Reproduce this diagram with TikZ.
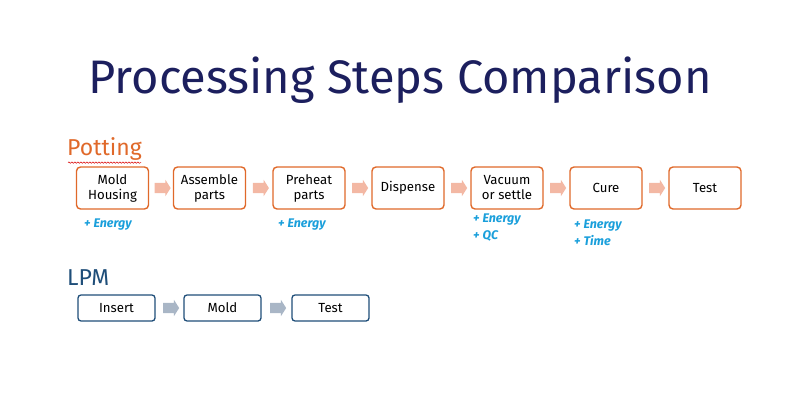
\documentclass[tikz,border=0pt]{standalone}
\usepackage{fontspec}
\setmainfont{Fira Sans}
\usetikzlibrary{shapes.arrows,calc,decorations.pathmorphing}

\definecolor{titleblue}{HTML}{1C1F5E}
\definecolor{potorange}{HTML}{E0692A}
\definecolor{potarrow}{HTML}{F3B8A4}
\definecolor{lpmblue}{HTML}{1F4E79}
\definecolor{lpmarrow}{HTML}{A9B6C6}
\definecolor{notecyan}{HTML}{1A9FDB}

\tikzset{
  potbox/.style={draw=potorange,line width=1.4pt,rounded corners=4pt,fill=white,
    minimum width=72pt,minimum height=42pt,align=center,font=\fontsize{13.2}{15}\selectfont},
  lpmbox/.style={draw=lpmblue,line width=1.3pt,rounded corners=3pt,fill=white,
    minimum width=77pt,minimum height=26pt,align=center,font=\fontsize{13.2}{15}\selectfont},
  stepar/.style={single arrow,draw=none,inner xsep=0pt,inner ysep=5pt,minimum height=16pt,
    single arrow head extend=3pt,single arrow tip angle=115},
  note/.style={text=notecyan,font=\fontsize{12.5}{17}\selectfont\bfseries\itshape,align=left,anchor=north west,inner sep=0pt}
}

\begin{document}
\begin{tikzpicture}[x=1pt,y=-1pt]
  \useasboundingbox (0,0) rectangle (800,420);

  \node[text=titleblue,font=\fontsize{47}{56}\selectfont] (title) at (400,80) {Processing Steps Comparison};

  % potting
  \node[text=potorange,font=\fontsize{23}{26}\selectfont,anchor=west,inner sep=0pt] (pot) at (67,149) {Potting};
  \draw[red!85!black,line width=0.5pt,decorate,decoration={snake,amplitude=0.7pt,segment length=3pt}]
    ($(pot.south west)+(1,2)$) -- ($(pot.south east)+(-1,2)$);

  \node[potbox] (p1) at (112.5,188) {Mold\\Housing};
  \node[potbox] (p2) at (209.5,188) {Assemble\\parts};
  \node[potbox] (p3) at (309,188) {Preheat\\parts};
  \node[potbox] (p4) at (408,188) {Dispense};
  \node[potbox] (p5) at (507,188) {Vacuum\\or settle};
  \node[potbox] (p6) at (606,188) {Cure};
  \node[potbox] (p7) at (705,188) {Test};

  \foreach \a/\b in {p1/p2,p2/p3,p3/p4,p4/p5,p5/p6,p6/p7}
    \node[stepar,fill=potarrow] (\a\b) at ($(\a.east)!0.5!(\b.west)$) {};

  \node[note] (n1) at (84,219) {+ Energy};
  \node[note] (n3) at (278,219) {+ Energy};
  \node[note] (n5) at (473,214) {+ Energy\\+ QC};
  \node[note] (n6) at (574,220) {+ Energy\\+ Time};

  % lpm
  \node[text=lpmblue,font=\fontsize{23}{26}\selectfont,anchor=west,inner sep=0pt] (lpm) at (67,278) {LPM};

  \node[lpmbox] (l1) at (116.5,308) {Insert};
  \node[lpmbox] (l2) at (222.5,308) {Mold};
  \node[lpmbox] (l3) at (330.5,308) {Test};

  \node[stepar,fill=lpmarrow] (l1l2) at ($(l1.east)!0.5!(l2.west)$) {};
  \node[stepar,fill=lpmarrow] (l2l3) at ($(l2.east)!0.5!(l3.west)$) {};
\end{tikzpicture}
\end{document}
